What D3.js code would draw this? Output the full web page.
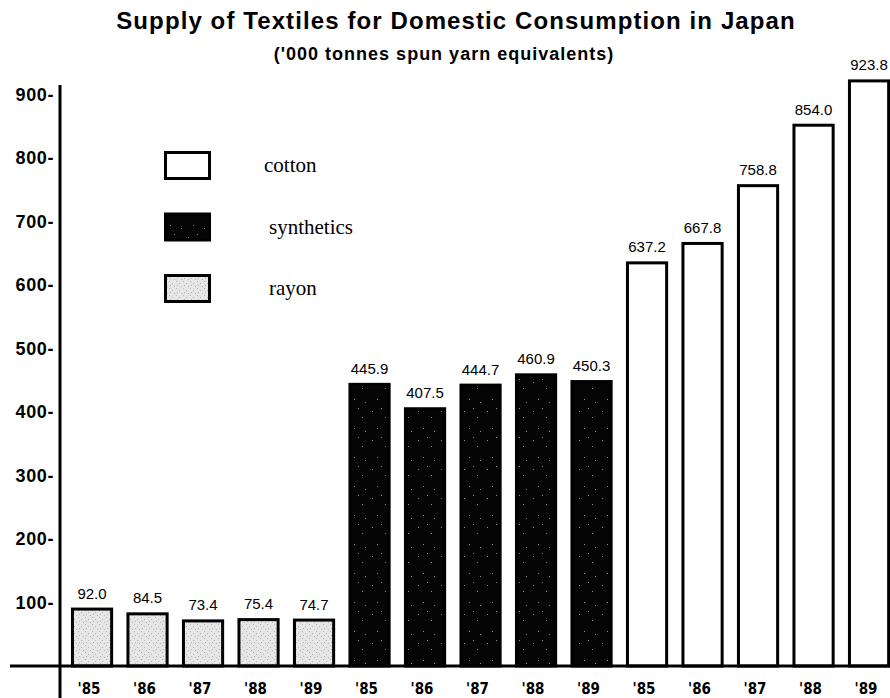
<!DOCTYPE html>
<html>
<head>
<meta charset="utf-8">
<script src="https://cdn.jsdelivr.net/npm/d3@7"></script>
<style>
  html, body { margin: 0; padding: 0; background: #fff; }
  svg { display: block; }
</style>
</head>
<body>
<svg id="chart" width="890" height="698"></svg>
<script>
// Supply of textiles for domestic consumption in Japan, '000 tonnes spun yarn equivalents
const years = ["'85", "'86", "'87", "'88", "'89"];
const fibres = ["rayon", "synthetics", "cotton"];
const rayonValues = [92.0, 84.5, 73.4, 75.4, 74.7];
const syntheticsValues = [445.9, 407.5, 444.7, 460.9, 450.3];
const cottonValues = [637.2, 667.8, 758.8, 854.0, 923.8];
const valueLabels = {
  rayon: ["92.0", "84.5", "73.4", "75.4", "74.7"],
  synthetics: ["445.9", "407.5", "444.7", "460.9", "450.3"],
  cotton: ["637.2", "667.8", "758.8", "854.0", "923.8"]
};
const yTicks = [100, 200, 300, 400, 500, 600, 700, 800, 900];
const legendOrder = ["cotton", "synthetics", "rayon"];

const seriesValues = { rayon: rayonValues, synthetics: syntheticsValues, cotton: cottonValues };
const rows = [];
fibres.forEach(f => years.forEach((yr, i) => rows.push({
  key: f + yr, fibre: f, year: yr, value: seriesValues[f][i], label: valueLabels[f][i]
})));

const svg = d3.select("#chart");
const defs = svg.append("defs");

// speckled fills: dark grain for synthetics, pale stipple for rayon
const synPat = defs.append("pattern").attr("id", "synFill")
  .attr("patternUnits", "userSpaceOnUse").attr("width", 23).attr("height", 29);
synPat.append("rect").attr("width", 23).attr("height", 29).attr("fill", "#050505");
[[4,5],[17,11],[9,22],[20,25],[13,2]].forEach(([x, y]) =>
  synPat.append("rect").attr("x", x).attr("y", y).attr("width", 1).attr("height", 1).attr("fill", "#888"));
const rayPat = defs.append("pattern").attr("id", "rayFill")
  .attr("patternUnits", "userSpaceOnUse").attr("width", 7).attr("height", 7);
rayPat.append("rect").attr("width", 7).attr("height", 7).attr("fill", "#e6e6e6");
[[1,1],[4,3],[2,5],[6,6]].forEach(([x, y]) =>
  rayPat.append("rect").attr("x", x).attr("y", y).attr("width", 1).attr("height", 1).attr("fill", "#b5b5b5"));

const fills = { cotton: "#fff", synthetics: "url(#synFill)", rayon: "url(#rayFill)" };

const x = d3.scaleBand()
  .domain(rows.map(d => d.key))
  .range([64.3, 896.8])
  .paddingInner(0.24)
  .paddingOuter(0.12);

const y = d3.scaleLinear().domain([0, 1000]).range([666, 31]);

const sw = 3;

// titles
svg.append("text")
  .attr("x", 456).attr("y", 29)
  .attr("text-anchor", "middle")
  .attr("font-family", "'Liberation Sans', Arial, sans-serif")
  .attr("font-weight", "bold").attr("font-size", 24)
  .attr("letter-spacing", 1.1)
  .text("Supply of Textiles for Domestic Consumption in Japan");
svg.append("text")
  .attr("x", 444).attr("y", 60)
  .attr("text-anchor", "middle")
  .attr("font-family", "'Liberation Sans', Arial, sans-serif")
  .attr("font-weight", "bold").attr("font-size", 18)
  .attr("letter-spacing", 1.0)
  .text("('000 tonnes spun yarn equivalents)");

// bars
svg.append("g").selectAll("rect").data(rows).join("rect")
  .attr("x", d => x(d.key) + sw / 2)
  .attr("y", d => y(d.value) + sw / 2)
  .attr("width", x.bandwidth() - sw)
  .attr("height", d => y(0) - y(d.value) - sw / 2)
  .attr("fill", d => fills[d.fibre])
  .attr("stroke", "#000")
  .attr("stroke-width", sw);

// value labels
svg.append("g").selectAll("text").data(rows).join("text")
  .attr("x", d => x(d.key) + x.bandwidth() / 2)
  .attr("y", d => y(d.value) - 9)
  .attr("text-anchor", "middle")
  .attr("font-family", "'Liberation Sans', Arial, sans-serif")
  .attr("font-size", 15)
  .attr("fill", "#000")
  .text(d => d.label);

// year labels under the baseline
svg.append("g").selectAll("text").data(rows).join("text")
  .attr("x", d => x(d.key) + x.bandwidth() / 2 - 3)
  .attr("y", 694)
  .attr("text-anchor", "middle")
  .attr("font-family", "'DejaVu Sans Condensed', 'Liberation Sans', sans-serif")
  .attr("font-weight", "bold")
  .attr("font-size", 15)
  .text(d => d.year);

// baseline
svg.append("line")
  .attr("x1", 10).attr("x2", 890)
  .attr("y1", y(0)).attr("y2", y(0))
  .attr("stroke", "#000").attr("stroke-width", 3);

// vertical axis rule and tick labels
svg.append("line")
  .attr("x1", 60).attr("x2", 60)
  .attr("y1", 85).attr("y2", 698)
  .attr("stroke", "#000").attr("stroke-width", 3);

const yAxis = svg.append("g")
  .attr("transform", "translate(54,0)")
  .call(d3.axisLeft(y).tickValues(yTicks).tickSize(0).tickPadding(0).tickFormat(d => d + "-"));
yAxis.select(".domain").remove();
yAxis.selectAll("text")
  .attr("font-family", "'Liberation Sans', Arial, sans-serif")
  .attr("font-weight", "bold")
  .attr("font-size", 18)
  .attr("letter-spacing", 0.6)
  .attr("fill", "#000");

// legend
const legend = svg.append("g");
legendOrder.forEach((f, i) => {
  const top = 151 + i * 61.5;
  legend.append("rect")
    .attr("x", 165.5).attr("y", top + 1.5)
    .attr("width", 44).attr("height", 26)
    .attr("fill", fills[f])
    .attr("stroke", "#000").attr("stroke-width", 3);
  legend.append("text")
    .attr("x", 264 + (i > 0 ? 5 : 0)).attr("y", top + 21)
    .attr("font-family", "'Liberation Serif', 'Times New Roman', serif")
    .attr("font-size", 21)
    .text(f);
});
</script>
</body>
</html>
